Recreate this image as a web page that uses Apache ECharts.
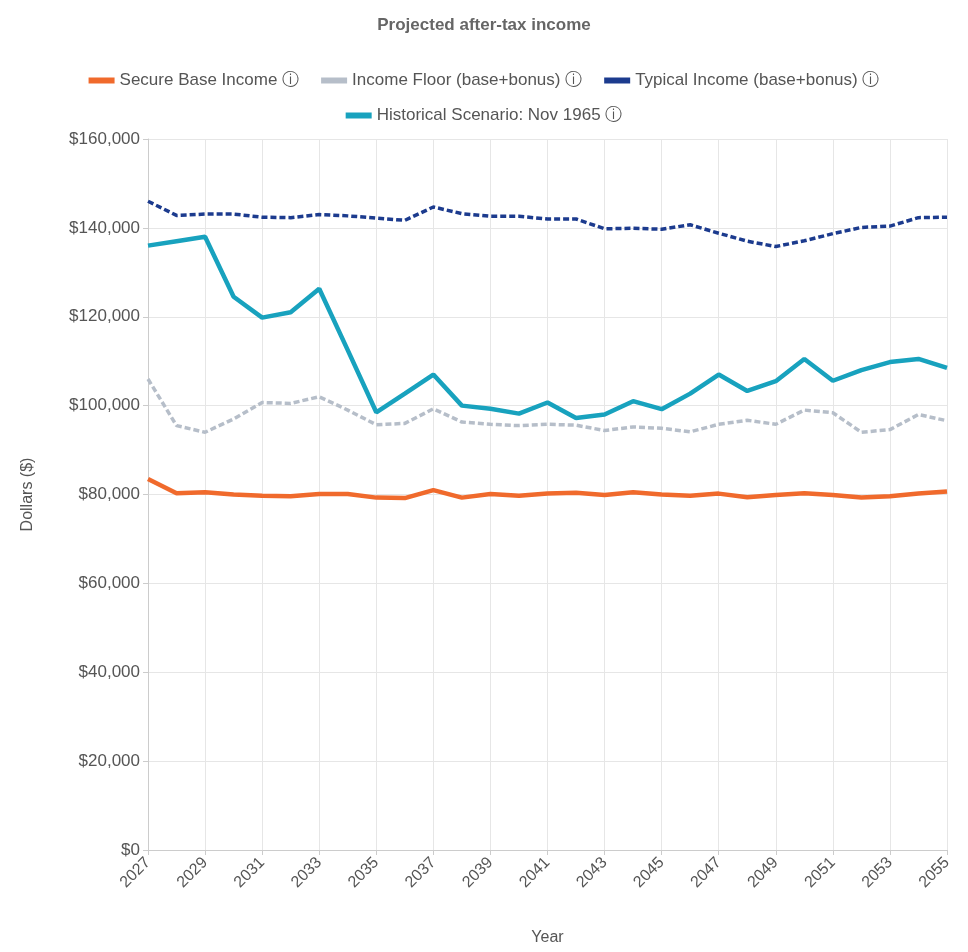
<!DOCTYPE html>
<html>
<head>
<meta charset="utf-8">
<script src="https://cdn.jsdelivr.net/npm/echarts@6/dist/echarts.min.js"></script>
<style>
  html, body { margin: 0; padding: 0; background: #fff; }
  #chart { width: 968px; height: 952px; }
</style>
</head>
<body>
<div id="chart"></div>
<script>
const years = [];
for (let y = 2027; y <= 2055; y++) years.push(String(y));

const secureBase = [83.5, 80.3, 80.5, 80, 79.7, 79.6, 80.1, 80.1, 79.3, 79.2, 81, 79.3, 80.1, 79.7, 80.2, 80.4, 79.9, 80.5, 80, 79.7, 80.2, 79.4, 79.9, 80.3, 79.9, 79.3, 79.6, 80.2, 80.7];
const incomeFloor = [106, 95.5, 94, 97, 100.7, 100.5, 102, 99, 95.7, 96, 99.3, 96.3, 95.8, 95.5, 95.8, 95.6, 94.4, 95.2, 94.9, 94.1, 95.8, 96.7, 95.8, 99, 98.4, 94, 94.6, 98, 96.6];
const typicalIncome = [146, 142.8, 143.1, 143.1, 142.4, 142.3, 143, 142.7, 142.2, 141.7, 144.7, 143.2, 142.6, 142.6, 142, 142, 139.8, 139.9, 139.7, 140.7, 138.8, 137, 135.8, 137.1, 138.7, 140.1, 140.4, 142.3, 142.4];
const historical = [136, 137, 138, 124.5, 119.8, 121, 126.3, 112.5, 98.5, 102.7, 107, 100, 99.3, 98.2, 100.7, 97.2, 98, 101, 99.2, 102.7, 107, 103.3, 105.5, 110.5, 105.6, 108, 109.8, 110.5, 108.5];

const toDollars = arr => arr.map(v => Math.round(v * 1000));

function line(name, data, color, dashed) {
    return {
        name: name,
        type: 'line',
        data: toDollars(data),
        showSymbol: false,
        lineStyle: { color: color, width: dashed ? 3.5 : 4.5, type: dashed ? [6, 3] : 'solid' },
        itemStyle: { color: color }
    };
}

const legendBase = {
    left: 'center',
    itemGap: 22,
    itemWidth: 26,
    itemHeight: 6,
    icon: 'rect',
    textStyle: { fontSize: 17, color: '#555' },
    formatter: n => n + ' ⓘ'
};

const chart = echarts.init(document.getElementById('chart'));
chart.setOption({
    animation: false,
    textStyle: { fontFamily: 'Helvetica, Arial, "Liberation Sans", sans-serif' },
    title: {
        text: 'Projected after-tax income',
        left: 'center',
        top: 12,
        textStyle: { fontSize: 17, fontWeight: 'bold', color: '#666' }
    },
    legend: [
        Object.assign({ top: 67, data: ['Secure Base Income', 'Income Floor (base+bonus)', 'Typical Income (base+bonus)'] }, legendBase),
        Object.assign({ top: 102, data: ['Historical Scenario: Nov 1965'] }, legendBase)
    ],
    grid: { left: 148, right: 21, top: 139, bottom: 102 },
    xAxis: {
        type: 'category',
        data: years,
        boundaryGap: false,
        name: 'Year',
        nameLocation: 'middle',
        nameGap: 80,
        nameTextStyle: { fontSize: 16, color: '#555' },
        axisLine: { lineStyle: { color: '#ccc' } },
        axisTick: { show: true, interval: 1, lineStyle: { color: '#ccc' } },
        axisLabel: { interval: 1, rotate: 45, fontSize: 16, color: '#555', margin: 10 },
        splitLine: { show: true, interval: 1, lineStyle: { color: '#e6e6e6' } }
    },
    yAxis: {
        type: 'value',
        min: 0,
        max: 160000,
        interval: 20000,
        name: 'Dollars ($)',
        nameLocation: 'middle',
        nameGap: 112,
        nameTextStyle: { fontSize: 16, color: '#555' },
        axisLine: { show: true, lineStyle: { color: '#ccc' } },
        axisTick: { show: true, lineStyle: { color: '#ccc' } },
        axisLabel: { fontSize: 17, color: '#555', formatter: v => '$' + v.toLocaleString('en-US') },
        splitLine: { lineStyle: { color: '#e6e6e6' } }
    },
    series: [
        line('Secure Base Income', secureBase, '#f06a2c', false),
        line('Income Floor (base+bonus)', incomeFloor, '#b6bec9', true),
        line('Typical Income (base+bonus)', typicalIncome, '#1c3b8e', true),
        line('Historical Scenario: Nov 1965', historical, '#18a2be', false)
    ]
});
</script>
</body>
</html>
